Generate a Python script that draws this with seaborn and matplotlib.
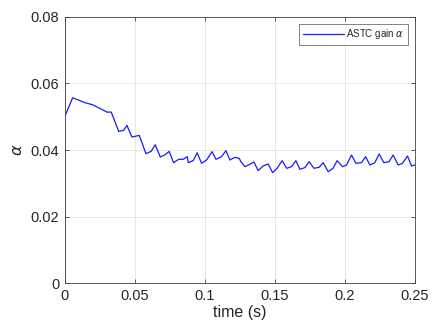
#!/usr/bin/env python3
import seaborn as sns
import matplotlib
matplotlib.use('Agg')
import matplotlib.pyplot as plt
from matplotlib.ticker import FuncFormatter
import pandas as pd

# time samples (s)
time_s = [0.0, 0.0055, 0.0086, 0.0145, 0.0198, 0.025, 0.030, 0.0331, 0.0384,
          0.0419, 0.0443, 0.0479, 0.0531, 0.0579, 0.0616, 0.0645, 0.0681,
          0.0716, 0.0745, 0.0776, 0.0812, 0.0845, 0.0874, 0.0881, 0.0916,
          0.0945, 0.0976, 0.1012, 0.1052, 0.1079, 0.1119, 0.115, 0.1179,
          0.1214, 0.1245, 0.1257, 0.1286, 0.1321, 0.135, 0.1381, 0.1416,
          0.1452, 0.1484, 0.1516, 0.1552, 0.1584, 0.1619, 0.165, 0.1679,
          0.1714, 0.1745, 0.1779, 0.1816, 0.1845, 0.1881, 0.1916, 0.1945,
          0.1984, 0.2012, 0.2048, 0.2079, 0.2119, 0.2148, 0.2179, 0.2214,
          0.2245, 0.2279, 0.2316, 0.2345, 0.2381, 0.2412, 0.2448, 0.2476,
          0.25]

# ASTC gain alpha
alpha_gain = [0.0502, 0.0557, 0.0552, 0.0542, 0.0536, 0.0525, 0.0514, 0.0514,
              0.0456, 0.0459, 0.0474, 0.0439, 0.0444, 0.0389, 0.0396, 0.0416,
              0.0379, 0.0386, 0.0396, 0.0362, 0.0372, 0.0372, 0.0380, 0.0362,
              0.0368, 0.0392, 0.0360, 0.0370, 0.0395, 0.0372, 0.0380, 0.0398,
              0.0370, 0.0378, 0.0375, 0.0365, 0.0350, 0.0357, 0.0364, 0.0338,
              0.0352, 0.0358, 0.0332, 0.0345, 0.0368, 0.0345, 0.0350, 0.0368,
              0.0342, 0.0347, 0.0365, 0.0345, 0.0348, 0.0362, 0.0335, 0.0345,
              0.0368, 0.0350, 0.0355, 0.0385, 0.0360, 0.0362, 0.0380, 0.0355,
              0.0362, 0.0388, 0.0362, 0.0365, 0.0385, 0.0355, 0.0360, 0.0382,
              0.0352, 0.0355]

x_ticks = [0, 0.05, 0.1, 0.15, 0.2, 0.25]
y_ticks = [0, 0.02, 0.04, 0.06, 0.08]

df = pd.DataFrame({'time': time_s, 'alpha': alpha_gain})

sns.set_style('whitegrid')
plt.rcParams['font.family'] = ['Liberation Sans', 'DejaVu Sans']

fig = plt.figure(figsize=(4.33, 3.33), dpi=100)
ax = fig.add_axes([0.150, 0.150, 0.808, 0.799])

sns.lineplot(data=df, x='time', y='alpha', ax=ax, color='#1a1aff',
             linewidth=0.9, label=r'ASTC gain $\alpha$')

ax.set_xlim(0, 0.25)
ax.set_ylim(0, 0.08)
ax.set_xticks(x_ticks)
ax.set_yticks(y_ticks)
fmt = FuncFormatter(lambda v, p: '%g' % v)
ax.xaxis.set_major_formatter(fmt)
ax.yaxis.set_major_formatter(fmt)
ax.tick_params(direction='in', length=3, width=0.5, colors='#262626',
               labelsize=10.5, pad=4, top=True, right=True,
               bottom=True, left=True)
ax.set_xlabel('time (s)', fontsize=11.5, color='#262626', labelpad=2)
ax.set_ylabel(r'$\alpha$', fontsize=11.5, color='#262626', labelpad=4)

ax.grid(True, color='#e3e3e3', linewidth=0.6)
for s in ax.spines.values():
    s.set_color('#404040')
    s.set_linewidth(0.6)

leg = ax.legend(loc='upper right', fontsize=7, frameon=True, fancybox=False,
                borderpad=0.35, handlelength=4.2, handletextpad=0.3,
                borderaxespad=0.7)
leg.get_frame().set_edgecolor('#262626')
leg.get_frame().set_linewidth(0.5)

plt.savefig('out.png', dpi=100)
plt.close(fig)
